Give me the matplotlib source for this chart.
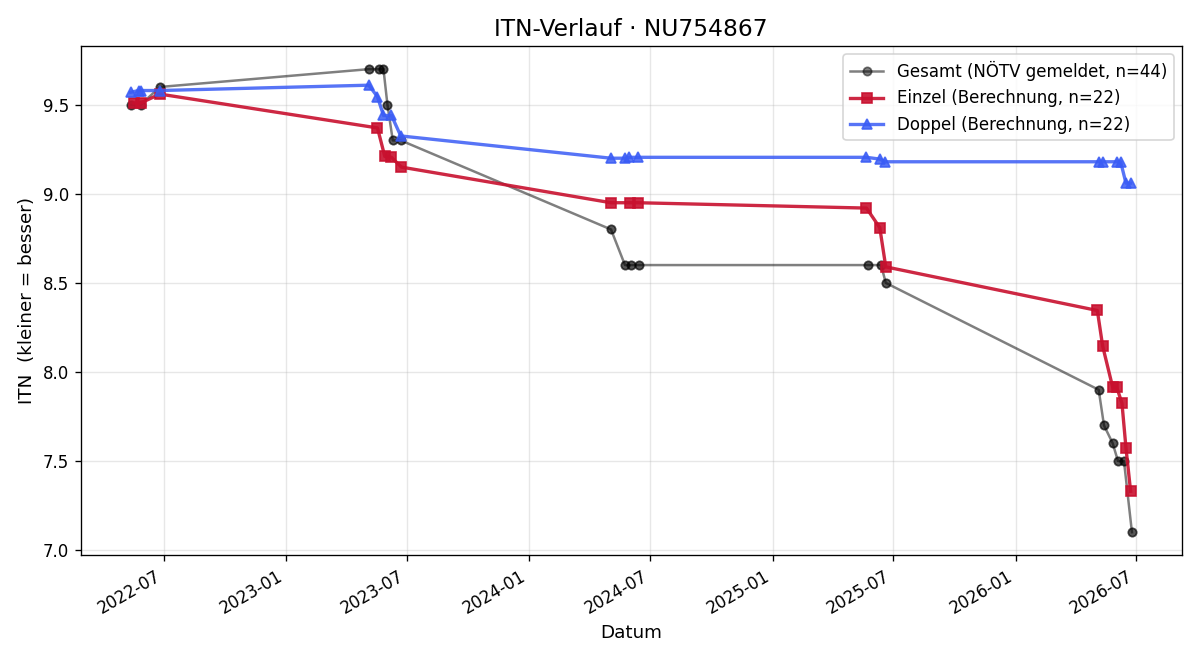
import matplotlib
matplotlib.use("Agg")
import matplotlib.pyplot as plt
import matplotlib.dates as mdates
import pandas as pd

gesamt_dates = ["2022-05-12", "2022-05-27", "2022-06-25",
                "2023-05-05", "2023-05-20", "2023-05-27", "2023-06-02", "2023-06-10", "2023-06-22",
                "2024-05-03", "2024-05-24", "2024-06-02", "2024-06-14",
                "2025-05-24", "2025-06-13", "2025-06-20",
                "2026-05-06", "2026-05-14", "2026-05-27", "2026-06-04", "2026-06-13", "2026-06-25"]
gesamt_itn = [9.5, 9.5, 9.6,
              9.7, 9.7, 9.7, 9.5, 9.3, 9.3,
              8.8, 8.6, 8.6, 8.6,
              8.6, 8.6, 8.5,
              7.9, 7.7, 7.6, 7.5, 7.5, 7.1]

einzel_dates = ["2022-05-17", "2022-05-27", "2022-06-25",
                "2023-05-18", "2023-05-29", "2023-06-08", "2023-06-23",
                "2024-05-03", "2024-06-01", "2024-06-13",
                "2025-05-22", "2025-06-11", "2025-06-20",
                "2026-05-04", "2026-05-12", "2026-05-27", "2026-06-02", "2026-06-10", "2026-06-16", "2026-06-23"]
einzel_itn = [9.51, 9.51, 9.56,
              9.37, 9.21, 9.205, 9.15,
              8.95, 8.95, 8.95,
              8.92, 8.81, 8.59,
              8.345, 8.145, 7.915, 7.915, 7.825, 7.575, 7.33]

doppel_dates = ["2022-05-12", "2022-05-24", "2022-05-27", "2022-06-25",
                "2023-05-05", "2023-05-18", "2023-05-27", "2023-06-08", "2023-06-22",
                "2024-05-03", "2024-05-24", "2024-05-30", "2024-06-13",
                "2025-05-22", "2025-06-11", "2025-06-19",
                "2026-05-06", "2026-05-12", "2026-06-02", "2026-06-08", "2026-06-16", "2026-06-23"]
doppel_itn = [9.57, 9.58, 9.58, 9.58,
              9.61, 9.545, 9.44, 9.44, 9.325,
              9.2, 9.2, 9.205, 9.205,
              9.205, 9.195, 9.18,
              9.18, 9.18, 9.18, 9.18, 9.06, 9.06]

g_x = pd.to_datetime(gesamt_dates)
e_x = pd.to_datetime(einzel_dates)
d_x = pd.to_datetime(doppel_dates)

fig, ax = plt.subplots(figsize=(10, 5.5), dpi=120)

ax.plot(g_x, gesamt_itn, color="black", alpha=0.5, marker="o", markersize=5,
        linewidth=1.5, label="Gesamt (NÖTV gemeldet, n=44)")
# each reported value appears twice (singles + doubles matches)
ax.plot(g_x, gesamt_itn, color="black", alpha=0.3, marker="o", markersize=5, linestyle="none")
ax.plot(e_x, einzel_itn, color="#c8102e", alpha=0.9, marker="s", markersize=6,
        linewidth=2, label="Einzel (Berechnung, n=22)")
ax.plot(d_x, doppel_itn, color="#3a5cf5", alpha=0.85, marker="^", markersize=6,
        linewidth=2, label="Doppel (Berechnung, n=22)")

ax.set_title("ITN-Verlauf · NU754867", fontsize=14)
ax.set_xlabel("Datum", fontsize=11)
ax.set_ylabel("ITN  (kleiner = besser)", fontsize=11)
ax.xaxis.set_major_locator(mdates.MonthLocator(bymonth=[1, 7]))
ax.xaxis.set_major_formatter(mdates.DateFormatter("%Y-%m"))
ax.grid(True, alpha=0.3)
ax.legend(loc="upper right")
fig.autofmt_xdate()
fig.tight_layout()
fig.savefig("out.png")
